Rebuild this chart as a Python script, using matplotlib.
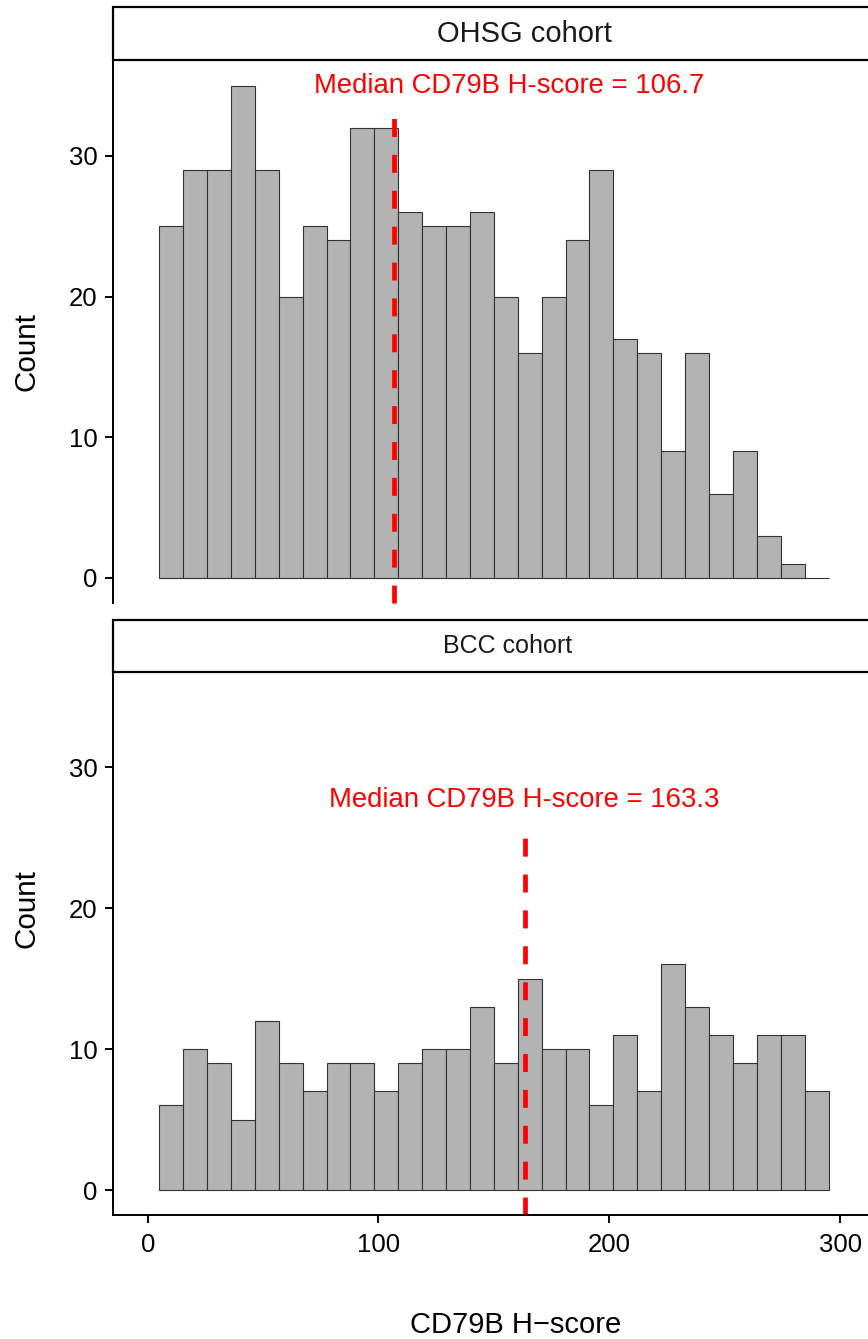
import numpy as np
import matplotlib
matplotlib.use("Agg")
import matplotlib.pyplot as plt
from matplotlib.patches import Rectangle

plt.rcParams['font.family'] = ['Liberation Sans', 'DejaVu Sans']

# ---- data ----
bin_edges = np.linspace(5, 295, 29)
ohsg_counts = [25, 29, 29, 35, 29, 20, 25, 24, 32, 32, 26, 25, 25, 26, 20,
               16, 20, 24, 29, 17, 16, 9, 16, 6, 9, 3, 1, 0]
bcc_counts = [6, 10, 9, 5, 12, 9, 7, 9, 9, 7, 9, 10, 10, 13, 9,
              15, 10, 10, 6, 11, 7, 16, 13, 11, 9, 11, 11, 7]
panel_titles = ["OHSG cohort", "BCC cohort"]
medians = [106.7, 163.3]
median_line_tops = [33.1, 25.3]
median_label_x = [156.7, 163.3]
median_label_y = [35.0, 27.7]
x_ticks = [0, 100, 200, 300]
y_ticks = [0, 10, 20, 30]

W, H = 868, 1339
fig = plt.figure(figsize=(W / 100, H / 100), dpi=100)


def rect(l, t, r, b):
    return [l / W, 1 - b / H, (r - l) / W, (b - t) / H]


panels = [
    dict(ax=rect(113, 61, 868, 602.6), strip=(7, 60), counts=ohsg_counts,
         xaxis=False, strip_cx=524.5, strip_fs=21, ylab_cy=352),
    dict(ax=rect(113, 672, 868, 1214.7), strip=(620, 672), counts=bcc_counts,
         xaxis=True, strip_cx=507.5, strip_fs=18, ylab_cy=909),
]

widths = np.diff(bin_edges)
for i, p in enumerate(panels):
    ax = fig.add_axes(p['ax'])
    ax.bar(bin_edges[:-1], p['counts'], width=widths, align='edge',
           color='#B3B3B3', edgecolor='#333333', linewidth=0.8)
    ax.set_xlim(-15.03, 312.1)
    ax.set_ylim(-1.75, 36.75)
    ax.plot([medians[i], medians[i]], [-1.75, median_line_tops[i]],
            color='#FF0000', linewidth=3.4, dashes=(3.8, 3.8), clip_on=False)
    ax.text(median_label_x[i], median_label_y[i],
            f"Median CD79B H-score = {medians[i]}", color='#FF0000',
            fontsize=19.8, ha='center', va='center')
    for s in ['top', 'right']:
        ax.spines[s].set_visible(False)
    ax.spines['left'].set_linewidth(1.4)
    ax.spines['bottom'].set_linewidth(1.4)
    ax.set_yticks(y_ticks)
    ax.tick_params(axis='y', length=6, width=1.4, pad=5, labelsize=18.5, labelcolor='black')
    if p['xaxis']:
        ax.set_xticks(x_ticks)
        ax.tick_params(axis='x', length=6, width=1.4, pad=7, labelsize=18.5, labelcolor='black')
    else:
        ax.spines['bottom'].set_visible(False)
        ax.set_xticks([])
    # strip
    t, b = p['strip']
    sax = fig.add_axes(rect(113, t, 868, b))
    sax.set_xlim(0, 1)
    sax.set_ylim(0, 1)
    sax.axis('off')
    sax.add_patch(Rectangle((0, 0), 1.2, 1, facecolor='white', edgecolor='black',
                            linewidth=1.6, clip_on=False))
    sax.text((p['strip_cx'] - 113) / (868 - 113), 0.5, panel_titles[i], fontsize=p['strip_fs'],
             color='#1A1A1A', ha='center', va='center')
    fig.text(26 / W, 1 - p['ylab_cy'] / H, "Count", rotation=90, fontsize=21.3,
             ha='center', va='center')

fig.text(516 / W, 1 - 1333 / H, "CD79B H\u2212score", fontsize=21, ha='center', va='baseline')

fig.savefig("out.png", dpi=100)
